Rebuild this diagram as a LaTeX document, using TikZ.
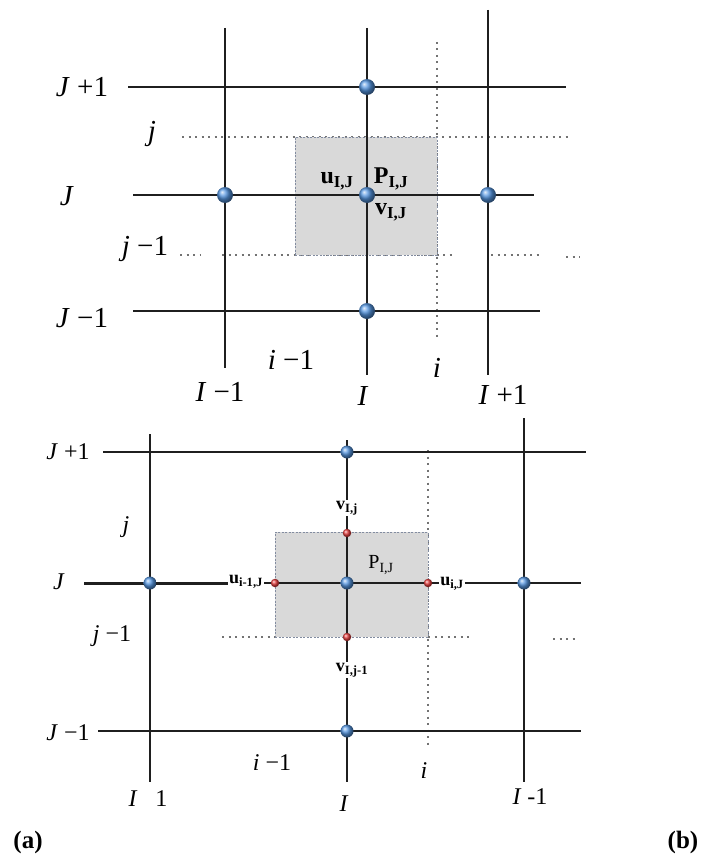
\documentclass[tikz,border=0pt]{standalone}
\usepackage{fontspec}
\setmainfont{Liberation Serif}
\definecolor{ptblue}{RGB}{85,150,225}
\definecolor{ptred}{RGB}{225,60,60}
\definecolor{cellgray}{RGB}{217,217,217}
\definecolor{celledge}{RGB}{130,140,160}
\begin{document}
\begin{tikzpicture}[x=1pt,y=-1pt,
  gridln/.style={line width=2.5pt, black!88},
  dotln/.style={line width=1.4pt, black!55, dash pattern=on 2pt off 4.5pt},
  cellbox/.style={rectangle, fill=cellgray, draw=celledge, line width=0.6pt, dash pattern=on 2pt off 1.5pt, inner sep=0pt, outer sep=0pt},
  bdotA/.style={circle, inner sep=0pt, minimum size=16pt, ball color=ptblue},
  bdotB/.style={circle, inner sep=0pt, minimum size=13pt, ball color=ptblue},
  rdot/.style={circle, inner sep=0pt, minimum size=8.5pt, ball color=ptred},
  lblA/.style={inner sep=0pt, font=\fontsize{29}{32}\selectfont},
  lblB/.style={inner sep=0pt, font=\fontsize{24}{27}\selectfont},
  symA/.style={inner sep=0pt, font=\fontsize{24}{27}\selectfont\bfseries},
  symB/.style={inner sep=1pt, fill=white, font=\fontsize{18}{20}\selectfont\bfseries},
  tag/.style={inner sep=0pt, font=\fontsize{25}{28}\selectfont\bfseries}]
\useasboundingbox (0,0) rectangle (703,859);

%================ (top) =================
\coordinate (tjL) at (182,137); \coordinate (tjR) at (572,137);
\draw[dotln] (tjL) -- (tjR);
\coordinate (tjmA) at (180,255); \coordinate (tjmB) at (200,255);
\draw[dotln] (tjmA) -- (tjmB);
\coordinate (tjmC) at (222,255); \coordinate (tjmD) at (456,255);
\draw[dotln] (tjmC) -- (tjmD);
\coordinate (tjmE) at (491,255); \coordinate (tjmF) at (540,255);
\draw[dotln] (tjmE) -- (tjmF);
\coordinate (tjmG) at (566,257); \coordinate (tjmH) at (580,257);
\draw[dotln] (tjmG) -- (tjmH);
\coordinate (tiT) at (437,42); \coordinate (tiB) at (437,337);
\draw[dotln] (tiT) -- (tiB);
\node[cellbox, minimum width=142pt, minimum height=118pt] (cellA) at (366,196) {};
\coordinate (tJpL) at (128,87); \coordinate (tJpR) at (566,87);
\coordinate (tJL) at (133,195); \coordinate (tJR) at (534,195);
\coordinate (tJmL) at (133,311); \coordinate (tJmR) at (540,311);
\coordinate (tImT) at (225,28); \coordinate (tImB) at (225,368);
\coordinate (tIT) at (367,28); \coordinate (tIB) at (367,375);
\coordinate (tIpT) at (488,10); \coordinate (tIpB) at (488,375);
\draw[gridln] (tJpL) -- (tJpR);
\draw[gridln] (tJL) -- (tJR);
\draw[gridln] (tJmL) -- (tJmR);
\draw[gridln] (tImT) -- (tImB);
\draw[gridln] (tIT) -- (tIB);
\draw[gridln] (tIpT) -- (tIpB);
\node[bdotA] (tN) at (367,87) {};
\node[bdotA] (tW) at (225,195) {};
\node[bdotA] (tP) at (367,195) {};
\node[bdotA] (tE) at (488,195) {};
\node[bdotA] (tS) at (367,311) {};
\node[lblA] (tlJp) at (82,87) {\textit{J} +1};
\node[lblA] (tlj) at (152,134) {\textit{j}};
\node[lblA] (tlJ) at (67,196) {\textit{J}};
\node[lblA] (tljm) at (145,249) {\textit{j} −1};
\node[lblA] (tlJm) at (82,318) {\textit{J} −1};
\node[lblA] (tlim) at (291,360) {\textit{i} −1};
\node[lblA] (tlIm) at (220,392) {\textit{I} −1};
\node[lblA] (tlI) at (363,396) {\textit{I}};
\node[lblA] (tli) at (437,368) {\textit{i}};
\node[lblA] (tlIp) at (503,395) {\textit{I} +1};
\node[symA] (tu) at (337,181) {u\textsubscript{I,J}};
\node[symA] (tp) at (391,179) {P\textsubscript{I,J}};
\node[symA] (tv) at (391,212) {v\textsubscript{I,J}};

%================ (bottom) =================
\coordinate (bjmA) at (222,637); \coordinate (bjmB) at (275,637);
\draw[dotln] (bjmA) -- (bjmB);
\coordinate (bjmC) at (428,637); \coordinate (bjmD) at (470,637);
\draw[dotln] (bjmC) -- (bjmD);
\coordinate (bjmE) at (553,639); \coordinate (bjmF) at (578,639);
\draw[dotln] (bjmE) -- (bjmF);
\coordinate (biT) at (428,450); \coordinate (biB) at (428,745);
\draw[dotln] (biT) -- (biB);
\node[cellbox, minimum width=153pt, minimum height=105pt] (cellB) at (351.5,584.5) {};
\node[symB] (bv1) at (347,508) {v\textsubscript{I,j}};
\node[symB] (bv2) at (352,670) {v\textsubscript{I,j-1}};
\node[symB] (bu1) at (246,582) {u\textsubscript{i-1,J}};
\node[symB] (bu2) at (452,584) {u\textsubscript{i,J}};
\coordinate (bJpL) at (103,452); \coordinate (bJpR) at (586,452);
\coordinate (bJL) at (84,583); \coordinate (bJR) at (581,583);
\coordinate (bJmL) at (98,731); \coordinate (bJmR) at (581,731);
\coordinate (bImT) at (150,434); \coordinate (bImB) at (150,782);
\coordinate (bIT) at (347,440); \coordinate (bIB) at (347,782);
\coordinate (bIpT) at (524,418); \coordinate (bIpB) at (524,782);
\draw[gridln] (bJpL) -- (bJpR);
\draw[gridln] (bJmL) -- (bJmR);
\draw[gridln] (bImT) -- (bImB);
\draw[gridln] (bIpT) -- (bIpB);
\draw[gridln, line width=3pt] (bJL) -- (bJL -| bu1.west);
\draw[gridln] (bJL -| bu1.east) -- (bJL -| bu2.west);
\draw[gridln] (bJL -| bu2.east) -- (bJR);
\draw[gridln] (bIT) -- (bIT |- bv1.north);
\draw[gridln] (bIT |- bv1.south) -- (bIT |- bv2.north);
\draw[gridln] (bIT |- bv2.south) -- (bIB);
\node[bdotB] (bN) at (347,452) {};
\node[bdotB] (bW) at (150,583) {};
\node[bdotB] (bP) at (347,583) {};
\node[bdotB] (bE) at (524,583) {};
\node[bdotB] (bS) at (347,731) {};
\node[rdot] (bfw) at (275,583) {};
\node[rdot] (bfe) at (428,583) {};
\node[rdot] (bfn) at (347,533) {};
\node[rdot] (bfs) at (347,637) {};
\node[lblB] (blJp) at (68,452) {\textit{J} +1};
\node[lblB] (blj) at (126,527) {\textit{j}};
\node[lblB] (blJ) at (59,582) {\textit{J}};
\node[lblB] (bljm) at (112,636) {\textit{j} −1};
\node[lblB] (blJm) at (68,733) {\textit{J} −1};
\node[lblB] (blim) at (272,763) {\textit{i} −1};
\node[lblB] (blIm) at (148,799) {\textit{I} \ \ 1};
\node[lblB] (blI) at (344,804) {\textit{I}};
\node[lblB] (bli) at (424,771) {\textit{i}};
\node[lblB] (blIp) at (530,797) {\textit{I} -1};
\node[inner sep=0pt, font=\fontsize{20}{23}\selectfont] (bp) at (381,565) {P\textsubscript{I,J}};
\node[tag] (ta) at (28,842) {(a)};
\node[tag] (tb) at (683,842) {(b)};
\end{tikzpicture}
\end{document}
